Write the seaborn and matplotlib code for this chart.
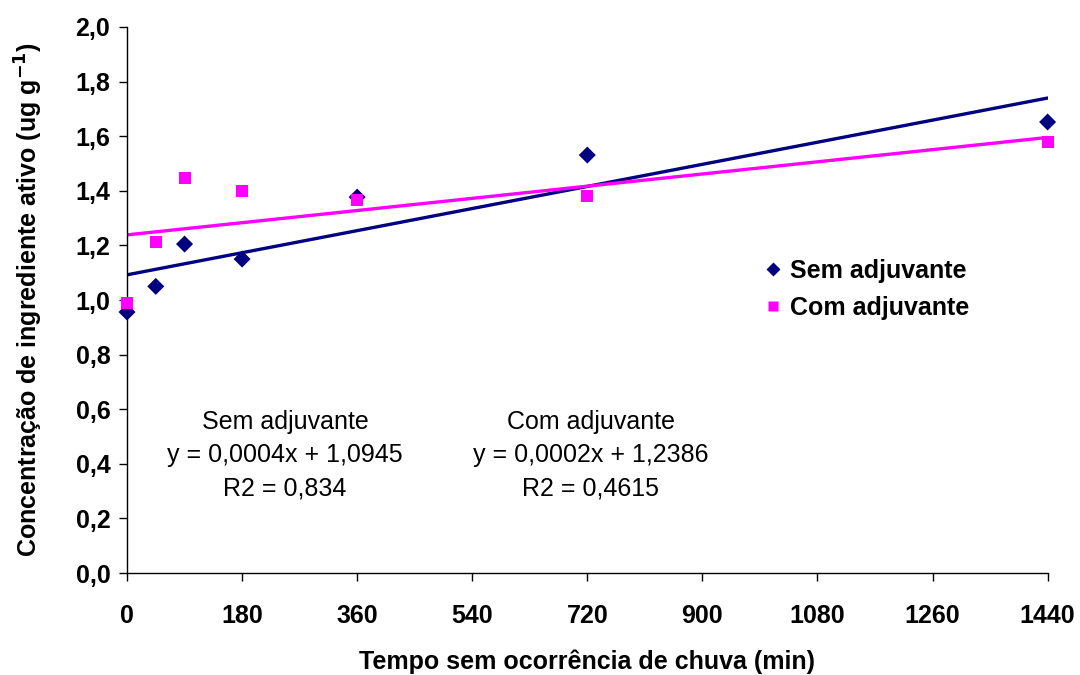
import pandas as pd
import numpy as np
import matplotlib
matplotlib.use("Agg")
import matplotlib.pyplot as plt
import seaborn as sns

# --- DADOS ---
tempo = [0, 45, 90, 180, 360, 720, 1440]
sem_adjuvante = [0.956, 1.05, 1.205, 1.15, 1.377, 1.531, 1.652]
com_adjuvante = [0.989, 1.212, 1.447, 1.399, 1.366, 1.381, 1.579]
series = ["Sem adjuvante", "Com adjuvante"]
cores = {"Sem adjuvante": "#000080", "Com adjuvante": "#FF00FF"}
marcadores = {"Sem adjuvante": "D", "Com adjuvante": "s"}
xticks = [0, 180, 360, 540, 720, 900, 1080, 1260, 1440]
yticks = [0.0, 0.2, 0.4, 0.6, 0.8, 1.0, 1.2, 1.4, 1.6, 1.8, 2.0]

df = pd.DataFrame({
    "Tempo": tempo * 2,
    "Conc": sem_adjuvante + com_adjuvante,
    "Serie": [series[0]] * len(tempo) + [series[1]] * len(tempo),
})

sns.set_style("white")
plt.rcParams["font.family"] = ["Liberation Sans", "DejaVu Sans"]
plt.rcParams["text.color"] = "black"
plt.rcParams["axes.labelcolor"] = "black"
plt.rcParams["xtick.color"] = "black"
plt.rcParams["ytick.color"] = "black"

fig = plt.figure(figsize=(10.8, 6.75), dpi=100)
ax = fig.add_axes([0.1176, 0.151, 0.8524, 0.809])

# --- LINHAS DE TENDENCIA ---
for s in series:
    d = df[df["Serie"] == s]
    sns.regplot(x="Tempo", y="Conc", data=d, ax=ax, scatter=False, ci=None,
                line_kws={"color": cores[s], "lw": 2.4, "zorder": 2})

# --- PONTOS ---
sns.scatterplot(data=df, x="Tempo", y="Conc", hue="Serie", style="Serie",
                palette=cores, markers=marcadores, hue_order=series,
                style_order=series, s=75, edgecolor="none", ax=ax, zorder=3,
                clip_on=False)

for lado in ["top", "right"]:
    ax.spines[lado].set_visible(False)
for lado in ["left", "bottom"]:
    ax.spines[lado].set_color("black")
    ax.spines[lado].set_linewidth(1)

ax.set_xlim(0, 1440)
ax.set_ylim(0, 2.0)
ax.set_xticks(xticks)
ax.set_yticks(yticks)
ax.set_xticklabels([str(t) for t in xticks], fontsize=18, fontweight="bold")
ax.set_yticklabels([f"{v:.1f}".replace(".", ",") for v in yticks],
                   fontsize=18, fontweight="bold")
ax.tick_params(axis="both", direction="out", length=6, width=1, color="black",
               labelcolor="black", bottom=True, left=True)
ax.tick_params(axis="x", pad=16)
ax.tick_params(axis="y", pad=6)

ax.set_xlabel("Tempo sem ocorrência de chuva (min)", fontsize=18,
              fontweight="bold", labelpad=16, color="black")
ax.set_ylabel("Concentração de ingrediente ativo (ug g$^{\\mathbf{-1}}$)",
              fontsize=18, fontweight="bold", labelpad=22, color="black")

# --- LEGENDA ---
handles, labels = ax.get_legend_handles_labels()
leg = ax.legend(handles, labels, loc="upper left", bbox_to_anchor=(0.677, 0.598),
                frameon=False, prop={"size": 18, "weight": "bold"},
                handlelength=0.8, handletextpad=0.3, labelspacing=0.5,
                borderpad=0, markerscale=0.8)
for t in leg.get_texts():
    t.set_color("black")

# --- EQUACOES ---
ax.text(247, 0.432, "Sem adjuvante\ny = 0,0004x + 1,0945\nR2 = 0,834",
        ha="center", va="center", fontsize=18, linespacing=1.5, color="black")
ax.text(725, 0.432, "Com adjuvante\ny = 0,0002x + 1,2386\nR2 = 0,4615",
        ha="center", va="center", fontsize=18, linespacing=1.5, color="black")

fig.savefig("out.png", dpi=100)
